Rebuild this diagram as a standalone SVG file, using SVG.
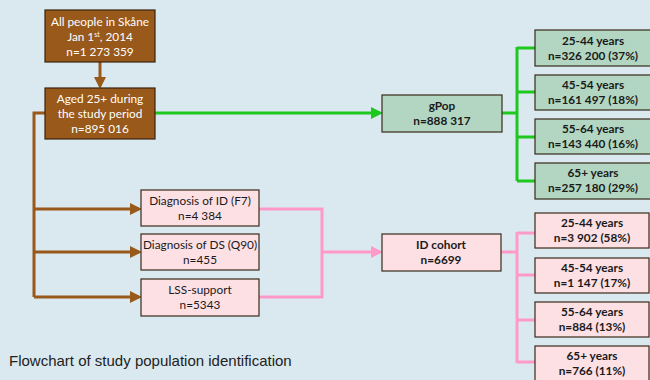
<svg xmlns="http://www.w3.org/2000/svg" width="650" height="380" viewBox="0 0 650 380">
<style>
.bg{fill:#dae9ef}
.brown{fill:#98591a;stroke:#3a2410;stroke-width:1.2}
.green{fill:#b2d6c2;stroke:#3a2a1a;stroke-width:1.2}
.pink{fill:#fde0e4;stroke:#3a2a1a;stroke-width:1.2}
.t{font-family:Lato,"Open Sans",sans-serif;font-size:11.8px;text-anchor:middle}
.w{fill:#ffffff}
.d{fill:#1a1a1a}
.b{font-weight:bold}
.lb{fill:none;stroke:#98591a;stroke-width:3}
.lg{fill:none;stroke:#1ec81e;stroke-width:3}
.lp{fill:none;stroke:#ff99c8;stroke-width:3}
.cap{font-family:"Liberation Sans",Arial,sans-serif;font-size:15px;fill:#222}
</style>
<defs>
<marker id="ab" markerWidth="4" markerHeight="4" refX="3" refY="2" orient="auto" markerUnits="strokeWidth"><path d="M0,0L4,2L0,4z" fill="#98591a"/></marker>
<marker id="ag" markerWidth="4" markerHeight="4" refX="3" refY="2" orient="auto" markerUnits="strokeWidth"><path d="M0,0L4,2L0,4z" fill="#1ec81e"/></marker>
<marker id="ap" markerWidth="4" markerHeight="4" refX="3" refY="2" orient="auto" markerUnits="strokeWidth"><path d="M0,0L4,2L0,4z" fill="#ff99c8"/></marker>
</defs>
<rect class="bg" x="0" y="0" width="650" height="380"/>
<g id="connectors">
<path class="lb" d="M100,62V86" marker-end="url(#ab)"/>
<path class="lb" d="M45,113H34V297"/>
<path class="lb" d="M34,209H139" marker-end="url(#ab)"/>
<path class="lb" d="M34,252H139" marker-end="url(#ab)"/>
<path class="lb" d="M34,297H139" marker-end="url(#ab)"/>
<path class="lg" d="M155,113H380" marker-end="url(#ag)"/>
<path class="lg" d="M502,113H517"/>
<path class="lg" d="M517,47V181"/>
<path class="lg" d="M517,48H535M517,92H535M517,137H535M517,181H535"/>
<path class="lp" d="M259,209H322V297H259"/>
<path class="lp" d="M322,252H380" marker-end="url(#ap)"/>
<path class="lp" d="M501,252H517"/>
<path class="lp" d="M517,232V363"/>
<path class="lp" d="M517,233H535M517,275H535M517,320H535M517,362H535"/>
</g>
<g id="n1"><rect class="brown" x="45" y="10" width="110" height="52"/>
<text class="t w" x="100" y="26">All people in Skåne</text>
<text class="t w" x="100" y="41">Jan 1<tspan font-size="7" dy="-4">st</tspan><tspan dy="4">, 2014</tspan></text>
<text class="t w" x="100" y="56">n=1 273 359</text></g>
<g id="n2"><rect class="brown" x="45" y="88" width="110" height="51"/>
<text class="t w" x="100" y="103">Aged 25+ during</text>
<text class="t w" x="100" y="118">the study period</text>
<text class="t w" x="100" y="133">n=895 016</text></g>
<g id="gpop"><rect class="green" x="382" y="95" width="120" height="37"/>
<text class="t d b" x="442" y="110">gPop</text>
<text class="t d b" x="442" y="125">n=888 317</text></g>
<g id="g1"><rect class="green" x="535" y="30" width="116" height="36"/>
<text class="t d b" x="593" y="45">25-44 years</text>
<text class="t d b" x="593" y="60">n=326 200 (37%)</text></g>
<g id="g2"><rect class="green" x="535" y="75" width="116" height="35"/>
<text class="t d b" x="593" y="89">45-54 years</text>
<text class="t d b" x="593" y="104">n=161 497 (18%)</text></g>
<g id="g3"><rect class="green" x="535" y="119" width="116" height="35"/>
<text class="t d b" x="593" y="133">55-64 years</text>
<text class="t d b" x="593" y="148">n=143 440 (16%)</text></g>
<g id="g4"><rect class="green" x="535" y="163" width="116" height="36"/>
<text class="t d b" x="593" y="177">65+ years</text>
<text class="t d b" x="593" y="192">n=257 180 (29%)</text></g>
<g id="d1"><rect class="pink" x="141" y="190" width="118" height="36"/>
<text class="t d" x="200" y="205">Diagnosis of ID (F7)</text>
<text class="t d" x="200" y="220">n=4 384</text></g>
<g id="d2"><rect class="pink" x="141" y="234" width="118" height="36"/>
<text class="t d" x="200" y="249">Diagnosis of DS (Q90)</text>
<text class="t d" x="200" y="264">n=455</text></g>
<g id="d3"><rect class="pink" x="141" y="279" width="118" height="37"/>
<text class="t d" x="200" y="294">LSS-support</text>
<text class="t d" x="200" y="309">n=5343</text></g>
<g id="id"><rect class="pink" x="382" y="234" width="119" height="37"/>
<text class="t d b" x="441" y="249">ID cohort</text>
<text class="t d b" x="441" y="264">n=6699</text></g>
<g id="p1"><rect class="pink" x="535" y="213" width="114" height="35"/>
<text class="t d b" x="592" y="227">25-44 years</text>
<text class="t d b" x="592" y="242">n=3 902 (58%)</text></g>
<g id="p2"><rect class="pink" x="535" y="258" width="114" height="35"/>
<text class="t d b" x="592" y="272">45-54 years</text>
<text class="t d b" x="592" y="287">n=1 147 (17%)</text></g>
<g id="p3"><rect class="pink" x="535" y="302" width="114" height="35"/>
<text class="t d b" x="592" y="316">55-64 years</text>
<text class="t d b" x="592" y="331">n=884 (13%)</text></g>
<g id="p4"><rect class="pink" x="535" y="346" width="114" height="36"/>
<text class="t d b" x="592" y="360">65+ years</text>
<text class="t d b" x="592" y="375">n=766 (11%)</text></g>
<text class="cap" x="9" y="366">Flowchart of study population identification</text>
</svg>
